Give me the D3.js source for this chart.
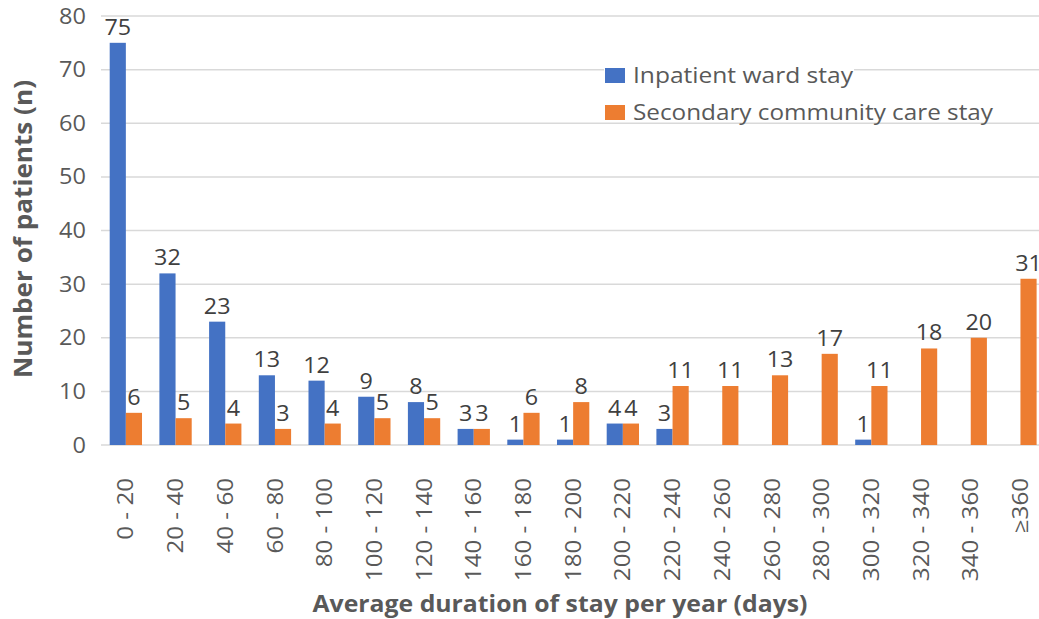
<!DOCTYPE html>
<html><head><meta charset="utf-8">
<script src="https://cdn.jsdelivr.net/npm/d3@7"></script>
<style>body{margin:0;background:#fff}svg{display:block}</style>
</head><body>
<svg id="c" width="1039" height="619"></svg>
<script>
const categories = ["0 - 20","20 - 40","40 - 60","60 - 80","80 - 100","100 - 120","120 - 140","140 - 160","160 - 180","180 - 200","200 - 220","220 - 240","240 - 260","260 - 280","280 - 300","300 - 320","320 - 340","340 - 360","≥360"];
const inpatient = [75,32,23,13,12,9,8,3,1,1,4,3,0,0,0,1,0,0,0];
const secondary = [6,5,4,3,4,5,5,3,6,8,4,11,11,13,17,11,18,20,31];
const seriesNames = ["Inpatient ward stay","Secondary community care stay"];
const yTicks = [0,10,20,30,40,50,60,70,80];

(function(){
const colors = ["#4472C4","#ED7D31"];
const font = "'Open Sans', sans-serif";
const svg = d3.select("#c");
const mLeft = 101, mTop = 16, mBottom = 445;
const x = d3.scaleBand().domain(categories).range([mLeft, mLeft + 19*49.7]).paddingInner(0.35).paddingOuter(0.175);
const x1 = d3.scaleBand().domain([0,1]).range([0, x.bandwidth()]);
const y = d3.scaleLinear().domain([0,80]).range([mBottom, mTop]);

function stretch(sel, k) {
  sel.each(function(){
    const L = this.getComputedTextLength();
    d3.select(this).attr("textLength", L*k).attr("lengthAdjust","spacingAndGlyphs");
  });
}

// gridlines
svg.append("g").selectAll("line").data(yTicks).join("line")
  .attr("x1", mLeft).attr("x2", 1039)
  .attr("y1", d=>y(d)).attr("y2", d=>y(d))
  .attr("stroke", "#d9d9d9").attr("stroke-width", 1.5);

// y tick labels
svg.append("g").selectAll("text").data(yTicks).join("text")
  .attr("x", 86).attr("y", d=>y(d)).attr("dy","0.36em")
  .attr("text-anchor","end").attr("font-family",font).attr("font-size",21)
  .attr("fill","#595959").text(d=>d).call(stretch, 1.12);

const series = [inpatient, secondary];
series.forEach((vals, si) => {
  const g = svg.append("g");
  g.selectAll("rect").data(vals.map((v,i)=>({v,c:categories[i]}))).join("rect")
    .attr("x", d=>x(d.c)+x1(si)).attr("width", x1.bandwidth())
    .attr("y", d=>y(d.v)).attr("height", d=>y(0)-y(d.v))
    .attr("fill", colors[si]);
  g.selectAll("text").data(vals.map((v,i)=>({v,c:categories[i]})).filter(d=>d.v>0)).join("text")
    .attr("x", d=>x(d.c)+x1(si)+x1.bandwidth()/2)
    .attr("y", d=>y(d.v)-8)
    .attr("text-anchor","middle").attr("font-family",font).attr("font-size",22)
    .attr("fill","#404040").text(d=>d.v).call(stretch, 1.06);
});

// x tick labels (rotated)
svg.append("g").selectAll("text").data(categories).join("text")
  .attr("transform", d=>`translate(${x(d)+x.bandwidth()/2},478) rotate(-90)`)
  .attr("dy","0.36em")
  .attr("text-anchor","end").attr("font-family",font).attr("font-size",21)
  .attr("fill","#595959").text(d=>d).call(stretch, 1.15);

// axis titles
svg.append("text").attr("transform","translate(32,229) rotate(-90)")
  .attr("text-anchor","middle").attr("font-family",font)
  .attr("font-size",25).attr("font-weight","bold").attr("fill","#595959")
  .text("Number of patients (n)").attr("textLength",298).attr("lengthAdjust","spacingAndGlyphs");
svg.append("text").attr("x",560).attr("y",612)
  .attr("text-anchor","middle").attr("font-family",font)
  .attr("font-size",24).attr("font-weight","bold").attr("fill","#595959")
  .text("Average duration of stay per year (days)").attr("textLength",495).attr("lengthAdjust","spacingAndGlyphs");

// legend
const lg = svg.append("g");
const legLen = [220, 360];
seriesNames.forEach((n, i) => {
  const base = 83 + i*37;
  if (i===0) lg.append("rect").attr("x",604).attr("y",base-19).attr("width",250).attr("height",26).attr("fill","#fff");
  lg.append("rect").attr("x",605).attr("y",base-15).attr("width",20).attr("height",15).attr("fill",colors[i]);
  lg.append("text").attr("x",633).attr("y",base)
    .attr("font-family",font).attr("font-size",21).attr("fill","#595959").text(n)
    .attr("textLength",legLen[i]).attr("lengthAdjust","spacingAndGlyphs");
});
})();
</script>
</body></html>
